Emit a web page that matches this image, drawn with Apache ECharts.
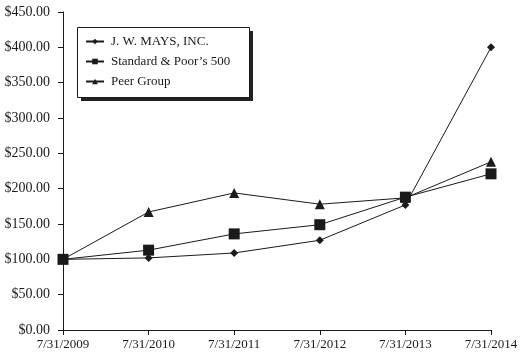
<!DOCTYPE html>
<html>
<head>
<meta charset="utf-8">
<script src="https://cdn.jsdelivr.net/npm/echarts@6/dist/echarts.min.js"></script>
<style>
  html, body { margin: 0; padding: 0; background: #fff; }
  #chart { width: 521px; height: 354px; }
</style>
</head>
<body>
<div id="chart"></div>
<script>
var categories = ['7/31/2009', '7/31/2010', '7/31/2011', '7/31/2012', '7/31/2013', '7/31/2014'];
var mays = [100, 102, 109, 127, 177, 400];
var sp500 = [100, 113, 136, 149, 188, 221];
var peer = [100, 167, 194, 178, 187, 238];

var font = '"Liberation Serif", "Times New Roman", serif';
var ink = '#1a1a1a';

function lineSeries(name, data, symbol, size) {
    return {
        name: name,
        type: 'line',
        data: data,
        symbol: symbol,
        symbolSize: size,
        showAllSymbol: true,
        lineStyle: { color: ink, width: 1 },
        itemStyle: { color: ink, borderWidth: 0 },
        emphasis: { disabled: true },
        animation: false
    };
}

var myChart = echarts.init(document.getElementById('chart'));
myChart.setOption({
    backgroundColor: '#fff',
    textStyle: { fontFamily: font },
    grid: { left: 63, right: 30, top: 12, bottom: 24, containLabel: false },
    // legend frame with its hard drop shadow
    graphic: [
        { type: 'rect', left: 81, top: 31, z: 1, shape: { width: 172, height: 70 }, style: { fill: '#222' } },
        { type: 'rect', left: 77, top: 27, z: 2, shape: { width: 172, height: 70 }, style: { fill: '#fff', stroke: ink, lineWidth: 1 } }
    ],
    legend: {
        orient: 'vertical',
        left: 85,
        top: 35,
        padding: 0,
        itemGap: 7,
        itemWidth: 18,
        itemHeight: 7,
        z: 5,
        textStyle: { fontFamily: font, fontSize: 13, color: ink, padding: [0, 0, 0, 2] },
        data: ['J. W. MAYS, INC.', 'Standard & Poor\u2019s 500', 'Peer Group']
    },
    xAxis: {
        type: 'category',
        data: categories,
        boundaryGap: false,
        axisLine: { lineStyle: { color: ink, width: 1 } },
        axisTick: { alignWithLabel: true, length: 5, lineStyle: { color: ink } },
        axisLabel: { color: ink, fontFamily: font, fontSize: 13, margin: 8, interval: 0 },
        splitLine: { show: false }
    },
    yAxis: {
        type: 'value',
        min: 0,
        max: 450,
        interval: 50,
        axisLine: { show: true, lineStyle: { color: ink, width: 1 } },
        axisTick: { show: true, length: 5, lineStyle: { color: ink } },
        axisLabel: {
            color: ink, fontFamily: font, fontSize: 14, margin: 13,
            formatter: function (v) { return '$' + v.toFixed(2); }
        },
        splitLine: { show: false }
    },
    series: [
        lineSeries('J. W. MAYS, INC.', mays, 'diamond', 8),
        lineSeries('Standard & Poor\u2019s 500', sp500, 'rect', 11),
        lineSeries('Peer Group', peer, 'triangle', 10)
    ]
});
</script>
</body>
</html>
